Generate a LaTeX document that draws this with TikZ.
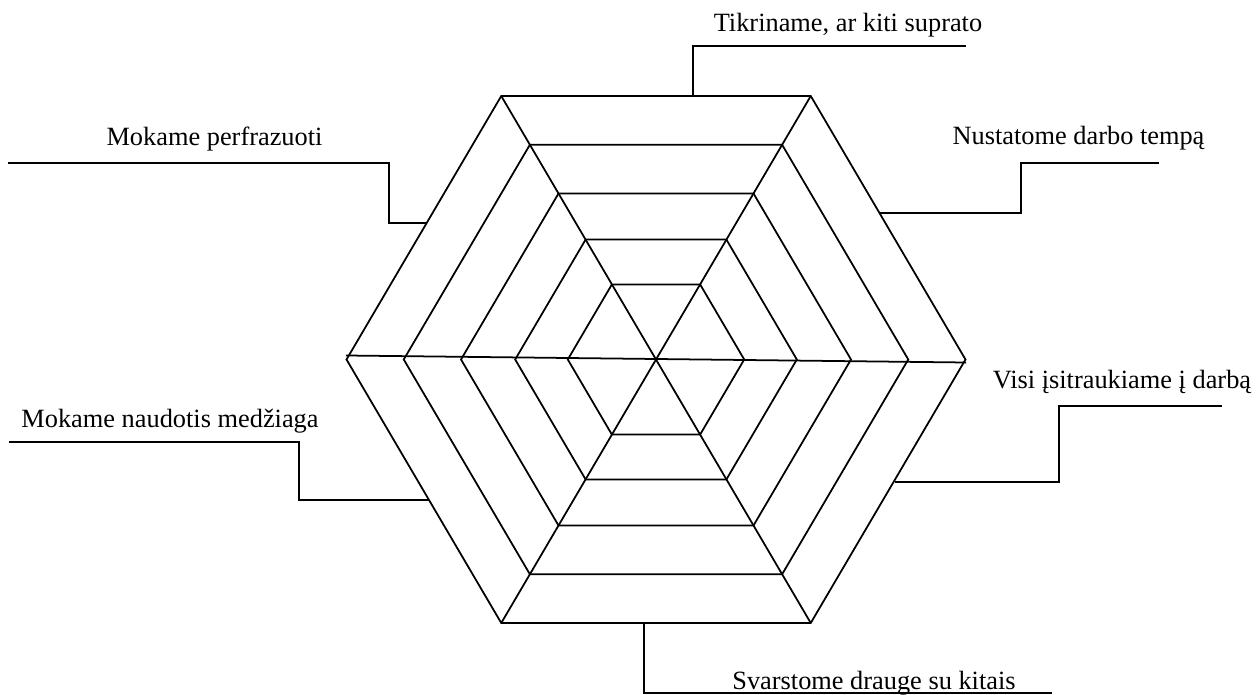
\documentclass[tikz,border=0pt]{standalone}
\usepackage{fontspec}
\setmainfont{Liberation Serif}
\usepackage{tikz}

\begin{document}
\begin{tikzpicture}
[-,line width=1pt,line join=miter,%
  every node/.style={anchor=base,inner sep=0pt},%
  x=0.02cm,y=-0.02cm]
\fontsize{15}{18}\selectfont
\useasboundingbox (0,0) rectangle (1257,695);
\foreach \s in {1,0.815,0.63,0.455,0.285}
  \draw ({656-309.5*\s},359.5) -- ({656-154.75*\s},{359.5-263.5*\s})
    -- ({656+154.75*\s},{359.5-263.5*\s}) -- ({656+309.5*\s},359.5)
    -- ({656+154.75*\s},{359.5+263.5*\s}) -- ({656-154.75*\s},{359.5+263.5*\s})
    -- cycle;
\draw (346,355.5) -- (966,362.5);
\draw (501.25,96) -- (810.75,623);
\draw (810.75,96) -- (501.25,623);
\node (tik) at (848,31.7) {Tikriname, ar kiti suprato};
\node (perf) at (214.5,146) {Mokame perfrazuoti};
\node (tempo) at (1078.5,145) {Nustatome darbo tempą};
\node (darb) at (1122,388.3) {Visi įsitraukiame į darbą};
\node (medz) at (170,428) {Mokame naudotis medžiaga};
\node (svar) at (874,689) {Svarstome drauge su kitais};
\coordinate (k0) at (693,96);
\coordinate (k1) at (966,46);
\coordinate (p0) at (427,222.7);
\coordinate (p1) at (389,162.7);
\coordinate (p2) at (8,162.7);
\coordinate (t0) at (880,213.3);
\coordinate (t1) at (1021,163.3);
\coordinate (t2) at (1159,163.3);
\coordinate (d0) at (895,482.3);
\coordinate (d1) at (1059,405.7);
\coordinate (d2) at (1222,405.7);
\coordinate (m0) at (429,500);
\coordinate (m1) at (299,442.3);
\coordinate (m2) at (9,442.3);
\coordinate (s0) at (644,623);
\coordinate (s1) at (1052,693);
\draw (k0) |- (k1);
\draw (p0) -| (p1) -- (p2);
\draw (t0) -| (t1) -- (t2);
\draw (d0) -| (d1) -- (d2);
\draw (m0) -| (m1) -- (m2);
\draw (s0) |- (s1);
\end{tikzpicture}
\end{document}
